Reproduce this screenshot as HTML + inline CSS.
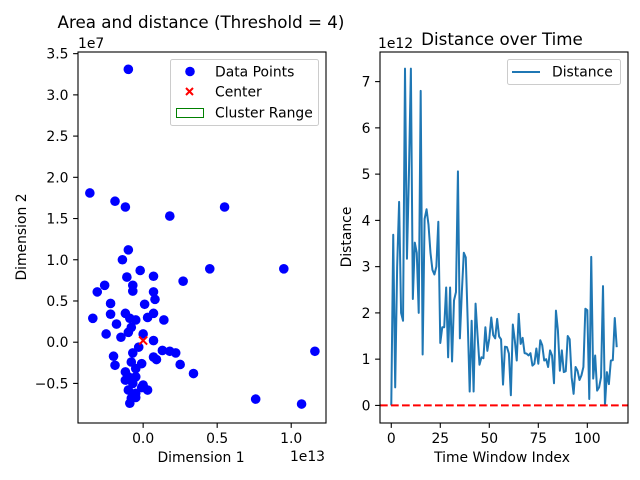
<!DOCTYPE html>
<html><head><meta charset="utf-8"><style>
html,body{margin:0;padding:0;background:#fff;}
body{position:relative;width:640px;height:480px;overflow:hidden}
svg{display:block;font-family:"DejaVu Sans","Liberation Sans",sans-serif;}
</style></head><body>
<svg id="fig" width="640" height="480" viewBox="0 0 640 480">
<rect width="640" height="480" fill="#fff"/>
<g id="left"></g>
<g id="right"></g>
</svg>
<script>
// scatter data (x in 1e13, y in 1e7)
const scatterX = [-0.10,-0.36,-0.19,-0.12,0.18,0.55,-0.26,-0.10,-0.14,-0.31,-0.34,-0.02,0.07,0.27,0.45,0.95,1.16,0.76,1.07,0.34,0.25,-0.11,-0.07,-0.07,0.07,0.08,-0.22,0.01,-0.22,0.07,0.03,0.14,-0.12,-0.09,-0.05,-0.18,-0.08,-0.10,-0.25,-0.15,0.00,0.07,-0.03,-0.07,0.13,0.22,0.18,0.07,0.09,-0.20,-0.01,-0.19,-0.08,-0.05,-0.12,-0.10,-0.05,-0.12,0.00,-0.07,0.03,-0.10,-0.05,-0.08,-0.09,-0.05,-0.01];
const scatterY = [3.31,1.81,1.71,1.64,1.53,1.64,0.69,1.12,1.00,0.61,0.29,0.87,0.80,0.74,0.89,0.89,-0.11,-0.69,-0.75,-0.38,-0.27,0.79,0.69,0.62,0.61,0.52,0.47,0.46,0.34,0.35,0.30,0.27,0.35,0.29,0.27,0.22,0.18,0.12,0.10,0.06,0.10,0.02,-0.06,-0.13,-0.10,-0.13,-0.11,-0.18,-0.21,-0.17,-0.26,-0.28,-0.24,-0.32,-0.36,-0.42,-0.42,-0.46,-0.52,-0.50,-0.58,-0.58,-0.62,-0.68,-0.74,-0.67,-0.55];
const centerX = [0.0];
const centerY = [0.02];
const sxTicks = [0.0,0.5,1.0];
const sxTickLabels = ["0.0","0.5","1.0"];
const syTicks = [-0.5,0.0,0.5,1.0,1.5,2.0,2.5,3.0,3.5];
const syTickLabels = ["−0.5","0.0","0.5","1.0","1.5","2.0","2.5","3.0","3.5"];
// line data (1e12)
const distance = [0,3.69,0.39,3.0,4.4,2.0,1.83,7.28,3.17,5.0,7.28,2.3,3.52,3.3,2.0,6.8,1.1,4.03,4.24,3.9,3.3,2.93,2.83,3.0,3.97,1.35,1.69,1.69,2.55,1.04,2.55,0.95,2.27,2.45,5.06,1.45,2.45,3.3,3.2,1.8,0.3,1.83,0.3,2.2,1.52,0.88,1.04,1.02,1.69,1.18,1.45,1.9,1.52,1.45,1.87,1.49,1.43,0.45,1.27,1.26,1.12,0.22,1.75,1.41,0.97,1.98,1.33,1.46,1.13,1.12,1.08,1.13,0.86,0.9,1.23,0.9,1.41,1.3,0.97,1.0,0.83,1.19,1.08,0.48,2.05,1.62,0.75,1.19,0.72,0.74,1.5,1.43,0.61,0.25,0.83,0.75,0.55,0.65,0.83,2.09,2.06,0.14,3.21,0.58,1.08,0.32,0.39,0.61,2.58,0.0,0.72,0.46,0.97,0.98,1.89,1.26];
const lxTicks = [0,25,50,75,100];
const lyTicks = [0,1,2,3,4,5,6,7];
const threshold = [0];

const NS="http://www.w3.org/2000/svg";
function mk(parent,tag,attrs,text){const e=document.createElementNS(NS,tag);for(const k in attrs)e.setAttribute(k,attrs[k]);if(text!==undefined)e.textContent=text;parent.appendChild(e);return e;}
const FS=13.9;

// ---------- Left scatter ----------
const L=document.getElementById('left');
const lx0=78,lx1=326,ly0=52,ly1=423;
const sxMin=-0.44,sxMax=1.235,syMin=-0.98,syMax=3.52;
const sx=v=>lx0+(v-sxMin)/(sxMax-sxMin)*(lx1-lx0);
const sy=v=>ly1-(v-syMin)/(syMax-syMin)*(ly1-ly0);
for(let i=0;i<scatterX.length;i++){
  const c=mk(L,'circle',{cx:sx(scatterX[i]),cy:sy(scatterY[i]),r:4.8,fill:'#0000ff'});
  
  
}
for(let i=0;i<centerX.length;i++){
  const cx=sx(centerX[i]),cy=sy(centerY[i]);
  const g=mk(L,'path',{d:`M${cx-4},${cy-4}L${cx+4},${cy+4}M${cx-4},${cy+4}L${cx+4},${cy-4}`,stroke:'#ff0000','stroke-width':2});
  
  
}
let fr=mk(L,'rect',{x:lx0,y:ly0,width:lx1-lx0,height:ly1-ly0,fill:'none',stroke:'#000','stroke-width':1.1});


sxTicks.forEach((t,i)=>{const x=sx(t);
  const tk=mk(L,'line',{x1:x,x2:x,y1:ly1,y2:ly1+4.9,stroke:'#000','stroke-width':1.1});
  
  
  const tl=mk(L,'text',{x:x,y:ly1+20,'font-size':FS,'text-anchor':'middle'},sxTickLabels[i]);
  
  
});
syTicks.forEach((t,i)=>{const y=sy(t);
  const tk=mk(L,'line',{x1:lx0-4.9,x2:lx0,y1:y,y2:y,stroke:'#000','stroke-width':1.1});
  
  
  const tl=mk(L,'text',{x:lx0-9.5,y:y+5,'font-size':FS,'text-anchor':'end'},syTickLabels[i]);
  
  
});
</script>
<svg style="position:absolute;left:0;top:0" width="640" height="480" viewBox="0 0 640 480">
<g font-family="DejaVu Sans, Liberation Sans, sans-serif">
<text x="201" y="28" font-size="16.7" text-anchor="middle">Area and distance (Threshold = 4)</text>
<text x="78" y="48" font-size="13.9">1e7</text>
<text x="325" y="461" font-size="13.9" text-anchor="end">1e13</text>
<text x="201" y="462" font-size="13.9" text-anchor="middle">Dimension 1</text>
<text x="26" y="237" font-size="13.9" text-anchor="middle" transform="rotate(-90 26 237)">Dimension 2</text>
<g>
<rect x="170.5" y="59.5" width="148" height="66" rx="2" fill="#fff" fill-opacity="0.8" stroke="#ccc"/>
<circle cx="190" cy="71.5" r="4.8" fill="#0000ff"/>
<text x="215" y="76.5" font-size="13.9">Data Points</text>
<path d="M186,88L193,95M186,95L193,88" stroke="#ff0000" stroke-width="2"/>
<text x="215" y="96.5" font-size="13.9">Center</text>
<rect x="176.5" y="108.5" width="27" height="9" fill="none" stroke="#008000"/>
<text x="215" y="117.5" font-size="13.9">Cluster Range</text>
</g>
<text x="502" y="45" font-size="16.7" text-anchor="middle">Distance over Time</text>
<text x="378" y="48" font-size="13.9">1e12</text>
<text x="502" y="462" font-size="13.9" text-anchor="middle">Time Window Index</text>
<text x="351" y="237" font-size="13.9" text-anchor="middle" transform="rotate(-90 351 237)">Distance</text>
<g>
<rect x="507.5" y="59.5" width="113" height="25" rx="2" fill="#fff" fill-opacity="0.8" stroke="#ccc"/>
<line x1="512" x2="540" y1="72" y2="72" stroke="#1f77b4" stroke-width="2"/>
<text x="552" y="76.5" font-size="13.9">Distance</text>
</g>
</g>
</svg>
<script>
(function(){
const R=document.getElementById('right');
const rx0=380,rx1=628,ry0=52,ry1=423;
const N=distance.length-1;
const xMin=-0.05*N,xMax=1.05*N;
const yMin=-0.38,yMax=7.64;
const X=v=>rx0+(v-xMin)/(xMax-xMin)*(rx1-rx0);
const Y=v=>ry1-(v-yMin)/(yMax-yMin)*(ry1-ry0);
let d='';
distance.forEach((v,i)=>{d+=(i?'L':'M')+X(i).toFixed(2)+','+Y(v).toFixed(2);});
const p=mk(R,'path',{d:d,fill:'none',stroke:'#1f77b4','stroke-width':2,'stroke-linejoin':'round'});


threshold.forEach(t=>{
  const l=mk(R,'line',{x1:rx0,x2:rx1,y1:Y(t),y2:Y(t),stroke:'#ff0000','stroke-width':2,'stroke-dasharray':'7.7,3.3'});
  
  
});
const fr=mk(R,'rect',{x:rx0,y:ry0,width:rx1-rx0,height:ry1-ry0,fill:'none',stroke:'#000','stroke-width':1.1});


lxTicks.forEach(t=>{const x=X(t);
  const tk=mk(R,'line',{x1:x,x2:x,y1:ry1,y2:ry1+4.9,stroke:'#000','stroke-width':1.1});
  
  
  const tl=mk(R,'text',{x:x,y:ry1+20,'font-size':FS,'text-anchor':'middle'},String(t));
  
  
});
lyTicks.forEach(t=>{const y=Y(t);
  const tk=mk(R,'line',{x1:rx0-4.9,x2:rx0,y1:y,y2:y,stroke:'#000','stroke-width':1.1});
  
  
  const tl=mk(R,'text',{x:rx0-9.5,y:y+5,'font-size':FS,'text-anchor':'end'},String(t));
  
  
});
})();
</script>
</body></html>
